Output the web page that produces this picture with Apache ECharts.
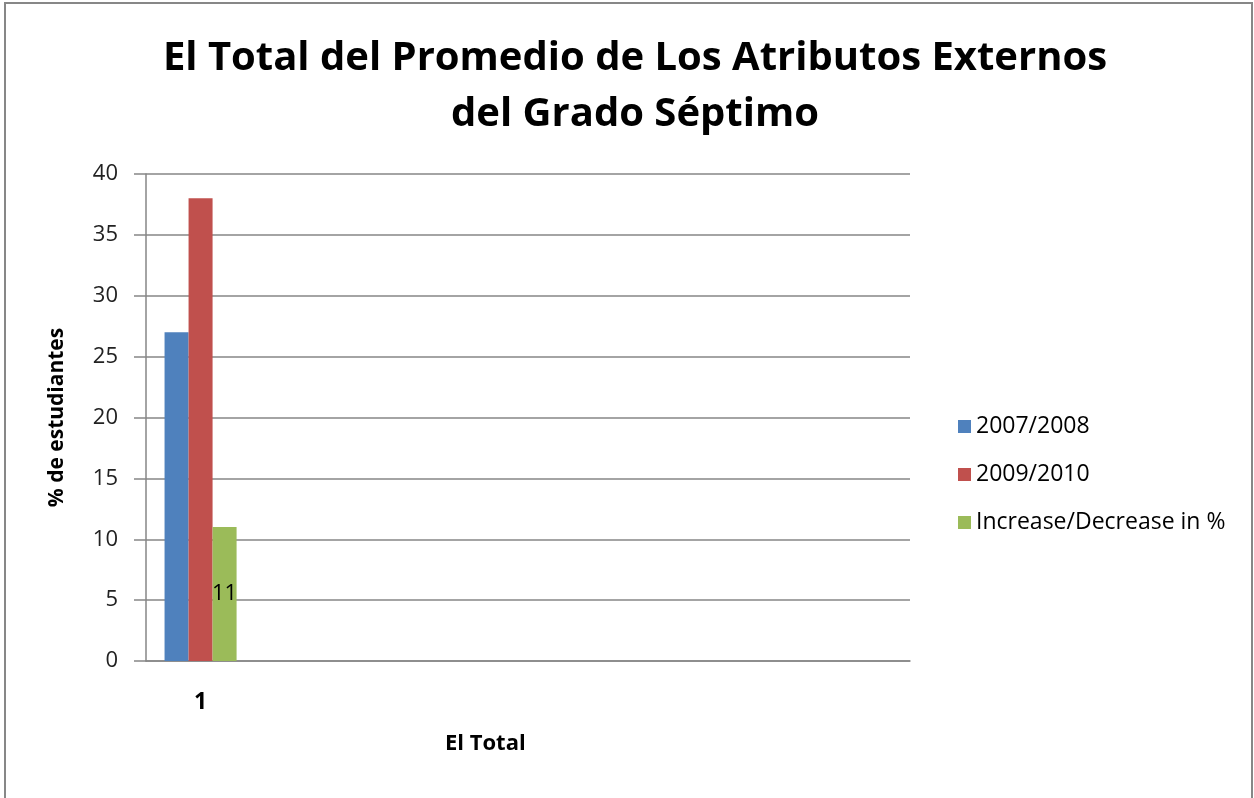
<!DOCTYPE html>
<html>
<head>
<meta charset="utf-8">
<script src="https://cdn.jsdelivr.net/npm/echarts@6/dist/echarts.min.js"></script>
<style>
  html, body { margin: 0; padding: 0; background: #fff; }
  #chart { width: 1254px; height: 798px; }
</style>
</head>
<body>
<div id="chart"></div>
<script>
// datos del gráfico
var categories = ['1', '', '', '', '', '', ''];
var seriesNames = ['2007/2008', '2009/2010', 'Increase/Decrease in %'];
var valores0708 = [27];
var valores0910 = [38];
var cambio = [11];
var colores = ['#4F81BD', '#C0504D', '#9BBB59'];

var myChart = echarts.init(document.getElementById('chart'));
var fuente = 'Open Sans';

var option = {
  animation: false,
  color: colores,
  title: {
    text: 'El Total del Promedio de Los Atributos Externos\ndel Grado Séptimo',
    left: 630,
    textAlign: 'center',
    top: 26,
    textStyle: {
      fontFamily: fuente,
      fontSize: 40,
      fontWeight: 'bold',
      color: '#000',
      lineHeight: 56
    }
  },
  legend: {
    orient: 'vertical',
    left: 953,
    top: 410,
    itemWidth: 13,
    itemHeight: 13,
    itemGap: 25,
    icon: 'rect',
    textStyle: { fontFamily: fuente, fontSize: 23, color: '#000' },
    data: seriesNames
  },
  grid: { left: 146, top: 174, right: 344, bottom: 137 },
  xAxis: {
    type: 'category',
    data: categories,
    axisLine: { lineStyle: { color: '#868686', width: 1.5 } },
    axisTick: { show: false },
    axisLabel: {
      margin: 30,
      fontFamily: fuente,
      fontSize: 23,
      fontWeight: 'bold',
      color: '#000'
    }
  },
  yAxis: {
    type: 'value',
    min: 0,
    max: 40,
    interval: 5,
    name: '% de estudiantes',
    nameLocation: 'middle',
    nameGap: 78,
    nameTextStyle: { fontFamily: fuente, fontSize: 21, fontWeight: 'bold', color: '#000' },
    axisLine: { show: true, lineStyle: { color: '#868686', width: 1.5 } },
    axisTick: { show: true, length: 12, lineStyle: { color: '#868686', width: 1.5 } },
    splitLine: { lineStyle: { color: '#868686', width: 1.5 } },
    axisLabel: { margin: 28, fontFamily: fuente, fontSize: 22, color: '#222' }
  },
  graphic: [
    {
      type: 'rect',
      shape: { x: 5, y: 3, width: 1247, height: 810 },
      style: { fill: 'none', stroke: '#878787', lineWidth: 2 }
    },
    {
      type: 'text',
      left: 445,
      top: 733,
      style: { text: 'El Total', font: 'bold 22px "Open Sans"', fill: '#000' }
    }
  ],
  series: [
    {
      name: seriesNames[0],
      type: 'bar',
      barGap: '0%',
      barCategoryGap: '34%',
      data: valores0708
    },
    {
      name: seriesNames[1],
      type: 'bar',
      barGap: '0%',
      barCategoryGap: '34%',
      data: valores0910
    },
    {
      name: seriesNames[2],
      type: 'bar',
      barGap: '0%',
      barCategoryGap: '34%',
      data: cambio,
      label: {
        show: true,
        position: 'inside',
        fontFamily: fuente,
        fontSize: 22,
        color: '#000'
      }
    }
  ]
};

myChart.setOption(option);
window.addEventListener('resize', function () {
  myChart.resize();
});
</script>
</body>
</html>
